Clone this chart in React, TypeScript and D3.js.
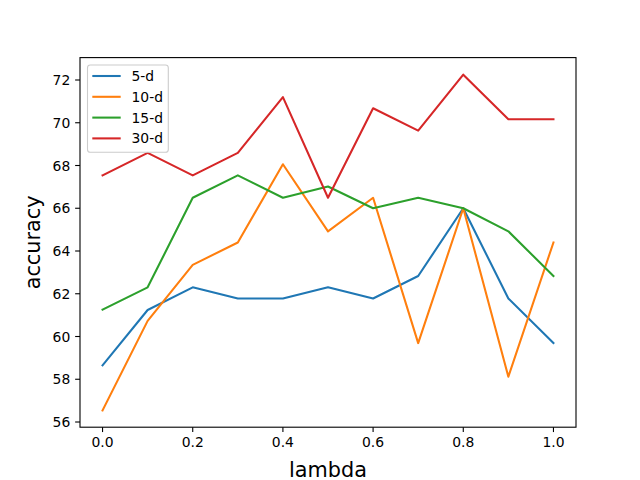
import { useMemo } from 'react';
import * as d3 from 'd3';

const lambdas = [0.0, 0.1, 0.2, 0.3, 0.4, 0.5, 0.6, 0.7, 0.8, 0.9, 1.0];
const acc5 = [58.65, 61.24, 62.3, 61.78, 61.78, 62.3, 61.78, 62.83, 66.0, 61.78, 59.69];
const acc10 = [56.54, 60.73, 63.35, 64.4, 68.06, 64.92, 66.49, 59.69, 66.0, 58.12, 64.4];
const acc15 = [61.26, 62.3, 66.49, 67.54, 66.49, 67.02, 66.0, 66.49, 66.0, 64.92, 62.83];
const acc30 = [67.54, 68.59, 67.54, 68.59, 71.2, 66.49, 70.68, 69.63, 72.25, 70.16, 70.16];

const seriesNames = ['5-d', '10-d', '15-d', '30-d'];
const seriesColors = ['#1f77b4', '#ff7f0e', '#2ca02c', '#d62728'];
const seriesValues = [acc5, acc10, acc15, acc30];

const xTicks = [0, 0.2, 0.4, 0.6, 0.8, 1.0];
const yTicks = [56, 58, 60, 62, 64, 66, 68, 70, 72];

const W = 640;
const H = 480;
const left = 80;
const right = 576;
const top = 57.6;
const bottom = 427.2;
const font = 'DejaVu Sans, sans-serif';

export default function App() {
  const x = useMemo(() => d3.scaleLinear().domain([-0.05, 1.05]).range([left, right]), []);
  const y = useMemo(() => d3.scaleLinear().domain([55.757, 73.048]).range([bottom, top]), []);
  const line = d3
    .line<number>()
    .x((_, i) => x(lambdas[i]))
    .y((d) => y(d));

  return (
    <div style={{ position: 'fixed', left: 0, top: 0 }}>
      <svg width={W} height={H} viewBox={`0 0 ${W} ${H}`} style={{ display: 'block', background: '#fff' }}>
        <g clipPath="url(#plot)">
          <defs>
            <clipPath id="plot">
              <rect x={left} y={top} width={right - left} height={bottom - top} />
            </clipPath>
          </defs>
          {seriesValues.map((vals, i) => (
            <path
              key={seriesNames[i]}
              d={line(vals) || ''}
              fill="none"
              stroke={seriesColors[i]}
              strokeWidth={2.08}
              strokeLinejoin="round"
              strokeLinecap="square"
            />
          ))}
        </g>

        {/* axes frame */}
        <rect x={left} y={top} width={right - left} height={bottom - top} fill="none" stroke="#000" strokeWidth={1.1} />

        {/* x ticks */}
        {xTicks.map((t) => (
          <g key={'x' + t}>
            <line x1={x(t)} x2={x(t)} y1={bottom} y2={bottom + 4.86} stroke="#000" strokeWidth={1.1} />
            <text x={x(t)} y={bottom + 20} textAnchor="middle" fontFamily={font} fontSize={13.9} fill="#000">
              {t.toFixed(1)}
            </text>
          </g>
        ))}

        {/* y ticks */}
        {yTicks.map((t) => (
          <g key={'y' + t}>
            <line x1={left - 4.86} x2={left} y1={y(t)} y2={y(t)} stroke="#000" strokeWidth={1.1} />
            <text x={left - 9.7} y={y(t) + 5.1} textAnchor="end" fontFamily={font} fontSize={13.9} fill="#000">
              {t}
            </text>
          </g>
        ))}

        {/* axis labels */}
        <text x={(left + right) / 2} y={476.5} textAnchor="middle" fontFamily={font} fontSize={20.8} fill="#000">
          lambda
        </text>
        <text
          transform={`translate(40, ${(top + bottom) / 2}) rotate(-90)`}
          textAnchor="middle"
          fontFamily={font}
          fontSize={20.8}
          fill="#000"
        >
          accuracy
        </text>

        {/* legend */}
        <rect x={87.5} y={65} width={80.8} height={87.3} rx={2.8} fill="#fff" fillOpacity={0.8} stroke="#cccccc" strokeWidth={1.1} />
        {seriesNames.map((name, i) => {
          const ly = 76 + i * 20.8;
          return (
            <g key={'lg' + name}>
              <line x1={92.3} x2={120.7} y1={ly} y2={ly} stroke={seriesColors[i]} strokeWidth={2.08} />
              <text x={131.5} y={ly + 5} fontFamily={font} fontSize={13.9} fill="#000">
                {name}
              </text>
            </g>
          );
        })}
      </svg>
    </div>
  );
}
